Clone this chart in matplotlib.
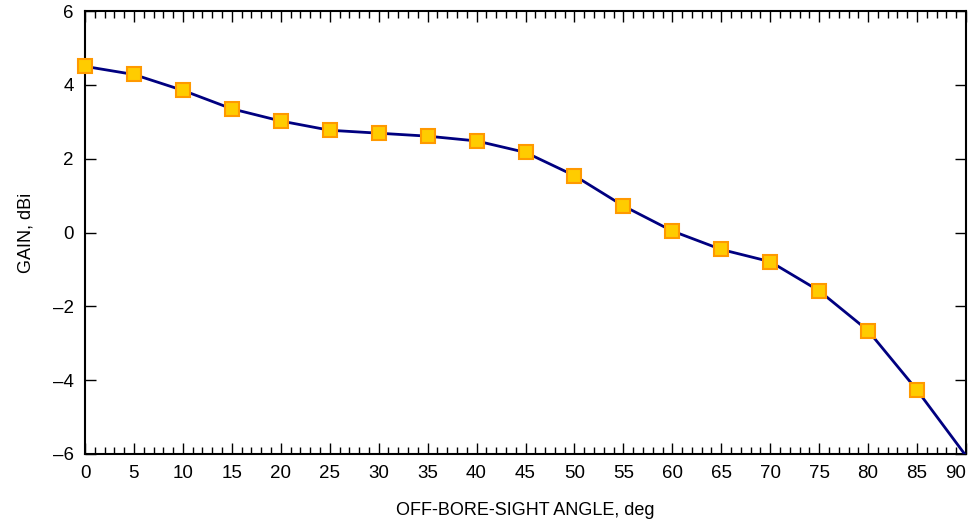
import matplotlib
matplotlib.use("Agg")
import matplotlib.pyplot as plt
import numpy as np

plt.rcParams['font.family'] = ['Liberation Sans', 'DejaVu Sans']

# off-bore-sight angle (deg) and measured gain (dBi)
angle = [0, 5, 10, 15, 20, 25, 30, 35, 40, 45, 50, 55, 60, 65, 70, 75, 80, 85, 90]
gain = [4.5, 4.28, 3.85, 3.35, 3.02, 2.77, 2.69, 2.61, 2.48, 2.17, 1.54, 0.72, 0.04,
        -0.46, -0.79, -1.58, -2.66, -4.27, -6.05]
# the last sample has no marker (falls on the axis edge)
n_markers = 18

fig = plt.figure(figsize=(9.71, 5.29), dpi=100)
ax = fig.add_axes([85 / 971, 1 - 454 / 529, 881 / 971, 443 / 529])

ax.plot(angle, gain, color='#000080', linewidth=2, zorder=3, clip_on=True)
ax.plot(angle[:n_markers], gain[:n_markers], linestyle='none', marker='s',
        markersize=9.5, markerfacecolor='#FFCC00', markeredgecolor='#FF9900',
        markeredgewidth=1.5, zorder=4, clip_on=False)

ax.set_xlim(0, 90)
ax.set_ylim(-6, 6)

ax.set_xticks(np.arange(0, 91, 5))
ax.set_xticks(np.arange(0, 91, 1), minor=True)
ax.set_yticks(np.arange(-6, 7, 2))
ax.set_yticklabels(['\u20136', '\u20134', '\u20132', '0', '2', '4', '6'])

ax.tick_params(axis='x', which='both', direction='in', top=True, bottom=True)
ax.tick_params(axis='x', which='major', length=8, width=1)
ax.tick_params(axis='x', which='minor', length=5, width=1)
ax.tick_params(axis='y', which='major', direction='in', left=True, right=True,
               length=8, width=1)
ax.tick_params(axis='both', labelsize=13.5, pad=8)

# keep the "90" label inside the figure
ax.get_xticklabels()[-1].set_horizontalalignment('right')
ax.get_xticklabels()[-1].set_x(90)

for s in ax.spines.values():
    s.set_linewidth(1.5)

ax.set_xlabel('OFF-BORE-SIGHT ANGLE, deg', fontsize=13, labelpad=14)
ax.set_ylabel('GAIN, dBi', fontsize=13, labelpad=13)

fig.savefig('out.png', dpi=100)
